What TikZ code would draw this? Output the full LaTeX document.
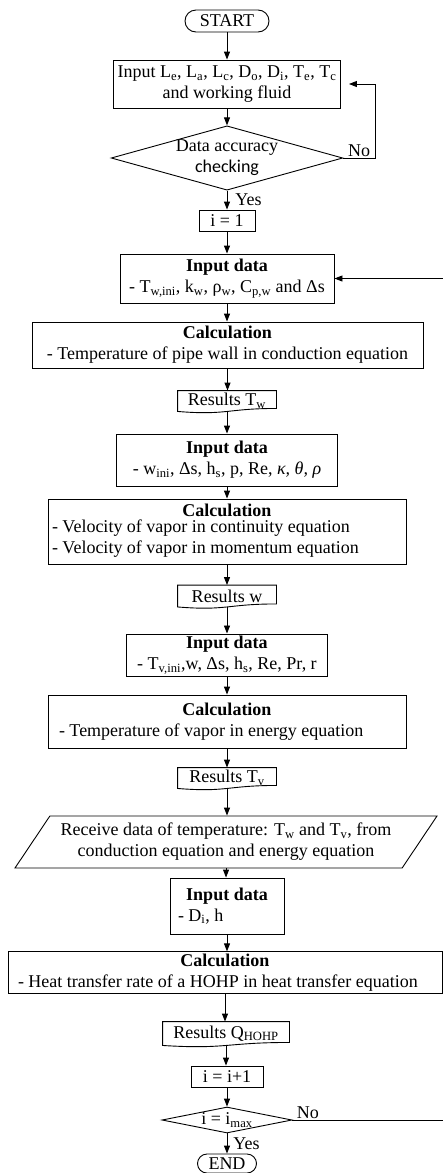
\documentclass[tikz,border=0pt]{standalone}
\usepackage{fontspec}
\setmainfont{Liberation Serif}
\newfontfamily\calibfont{Carlito}
\usetikzlibrary{arrows.meta,shapes.geometric,shapes.misc}

\begin{document}
\begin{tikzpicture}[
    x=1pt, y=1pt,
    >={Triangle[length=8pt,width=6pt]},
    line width=0.9pt,
    every node/.style = {inner sep=2pt, font=\fontsize{18}{21}\selectfont},
    term/.style  = {rounded rectangle, draw},
    proc/.style  = {rectangle, draw, align=center},
    decis/.style = {diamond, draw, align=center, inner sep=0pt},
    docu/.style  = {rectangle, align=center},
    io/.style    = {trapezium, draw, align=center,
                    trapezium left angle=50, trapezium right angle=130,
                    trapezium stretches body},
    lbl/.style   = {inner sep=1pt},
  ]
  \useasboundingbox (0,0) rectangle (442,-1173);
  % start and first input check
  \node[term, minimum width=88, minimum height=22] (start) at (227,-21) {START};
  \node[proc, minimum width=227, minimum height=48] (inp) at (227,-84)
    {Input L\textsubscript{e}, L\textsubscript{a}, L\textsubscript{c}, D\textsubscript{o}, D\textsubscript{i}, T\textsubscript{e}, T\textsubscript{c}\\and working fluid};
  \node[decis, minimum width=226, minimum height=63, shape aspect=3.6] (chk) at (227,-158)
    {Data accuracy\\{\calibfont checking}};
  \node[proc, minimum width=56, minimum height=21] (ione) at (227,-220.5) {i = 1};
  % wall temperature
  \node[proc, minimum width=214, minimum height=49] (in1) at (227,-278.5)
    {\textbf{Input data}\\- T\textsubscript{w,ini}, k\textsubscript{w}, ρ\textsubscript{w}, C\textsubscript{p,w} and Δs};
  \node[proc, minimum width=391, minimum height=46] (calc1) at (227.5,-345)
    {\textbf{Calculation}\\- Temperature of pipe wall in conduction equation};
  \node[docu, minimum width=98, minimum height=20] (res1) at (227,-401) {Results T\textsubscript{w}};
  % vapor velocity
  \node[proc, minimum width=221, minimum height=52] (in2) at (227,-460)
    {\textbf{Input data}\\- w\textsubscript{ini}, Δs, h\textsubscript{s}, p, Re, \textit{κ, θ, ρ}};
  \node[proc, minimum width=358, minimum height=65] (calc2) at (227,-531.5)
    {\textbf{Calculation}\\\makebox[350pt][l]{\begin{tabular}{@{}l@{}}- Velocity of vapor in continuity equation\\- Velocity of vapor in momentum equation\end{tabular}}};
  \node[docu, minimum width=98, minimum height=21] (res2) at (227,-596) {Results w};
  % vapor temperature
  \node[proc, minimum width=201, minimum height=40] (in3) at (227,-655)
    {\textbf{Input data}\\- T\textsubscript{v,ini},w, Δs, h\textsubscript{s}, Re, Pr, r};
  \node[proc, minimum width=358, minimum height=53] (calc3) at (227,-721.5)
    {\textbf{Calculation}\\\makebox[336pt][l]{- Temperature of vapor in energy equation}};
  \node[docu, minimum width=98, minimum height=20] (res3) at (227,-778) {Results T\textsubscript{v}};
  % heat transfer rate
  \node[io, minimum width=422, minimum height=52] (recv) at (226,-842)
    {Receive data of temperature: T\textsubscript{w} and T\textsubscript{v}, from\\conduction equation and energy equation};
  \node[proc, minimum width=114, minimum height=56] (in4) at (227,-906)
    {\textbf{Input data}\\\makebox[98pt][l]{- D\textsubscript{i}, h}};
  \node[proc, minimum width=434, minimum height=39] (calc4) at (225,-972.5)
    {\textbf{Calculation}\\\makebox[414pt][l]{- Heat transfer rate of a HOHP in heat transfer equation}};
  \node[docu, minimum width=126, minimum height=23] (res4) at (226,-1033.5) {Results Q\textsubscript{HOHP}};
  % counter and end
  \node[proc, minimum width=72, minimum height=21] (inc) at (227,-1076.5) {i = i+1};
  \node[decis, minimum width=130, minimum height=26, shape aspect=5] (imax) at (227,-1120) {i = i\textsubscript{max}};
  \node[term, minimum width=63, minimum height=19] (end) at (227,-1163.5) {END};
  \coordinate (back) at (443,-1120);
  % document outlines with wavy bottom
  \foreach \d in {res1,res2,res3,res4}{
    \draw (\d.north west) -- (\d.north east) -- ([yshift=3]\d.south east)
      .. controls ([yshift=3]\d.south) and ([yshift=-4]\d.south) .. (\d.south west) -- cycle;}
  % main flow
  \foreach \a/\b in {start/inp, inp/chk, ione/in1, in1/calc1, calc1/res1, res1/in2,
      in2/calc2, calc2/res2, res2/in3, in3/calc3, calc3/res3, res3/recv,
      recv/in4, in4/calc4, calc4/res4, res4/inc, inc/imax}
    {\draw[->] (\a.south) -- (\a.south |- \b.north);}
  \draw[->] (chk.south) -- node[lbl, right, xshift=7] {Yes} (chk.south |- ione.north);
  \draw[->] (imax.south) -- node[lbl, right, xshift=5] {Yes} (imax.south |- end.north);
  % loops back
  \draw[->, shorten >=8pt] (chk.east) -- node[lbl, above] {No} ++(32,0) |- (inp.east);
  \draw[->] (imax.east) -- node[lbl, above right, pos=0.02] {No} (back) |- (in1.east);
\end{tikzpicture}
\end{document}
